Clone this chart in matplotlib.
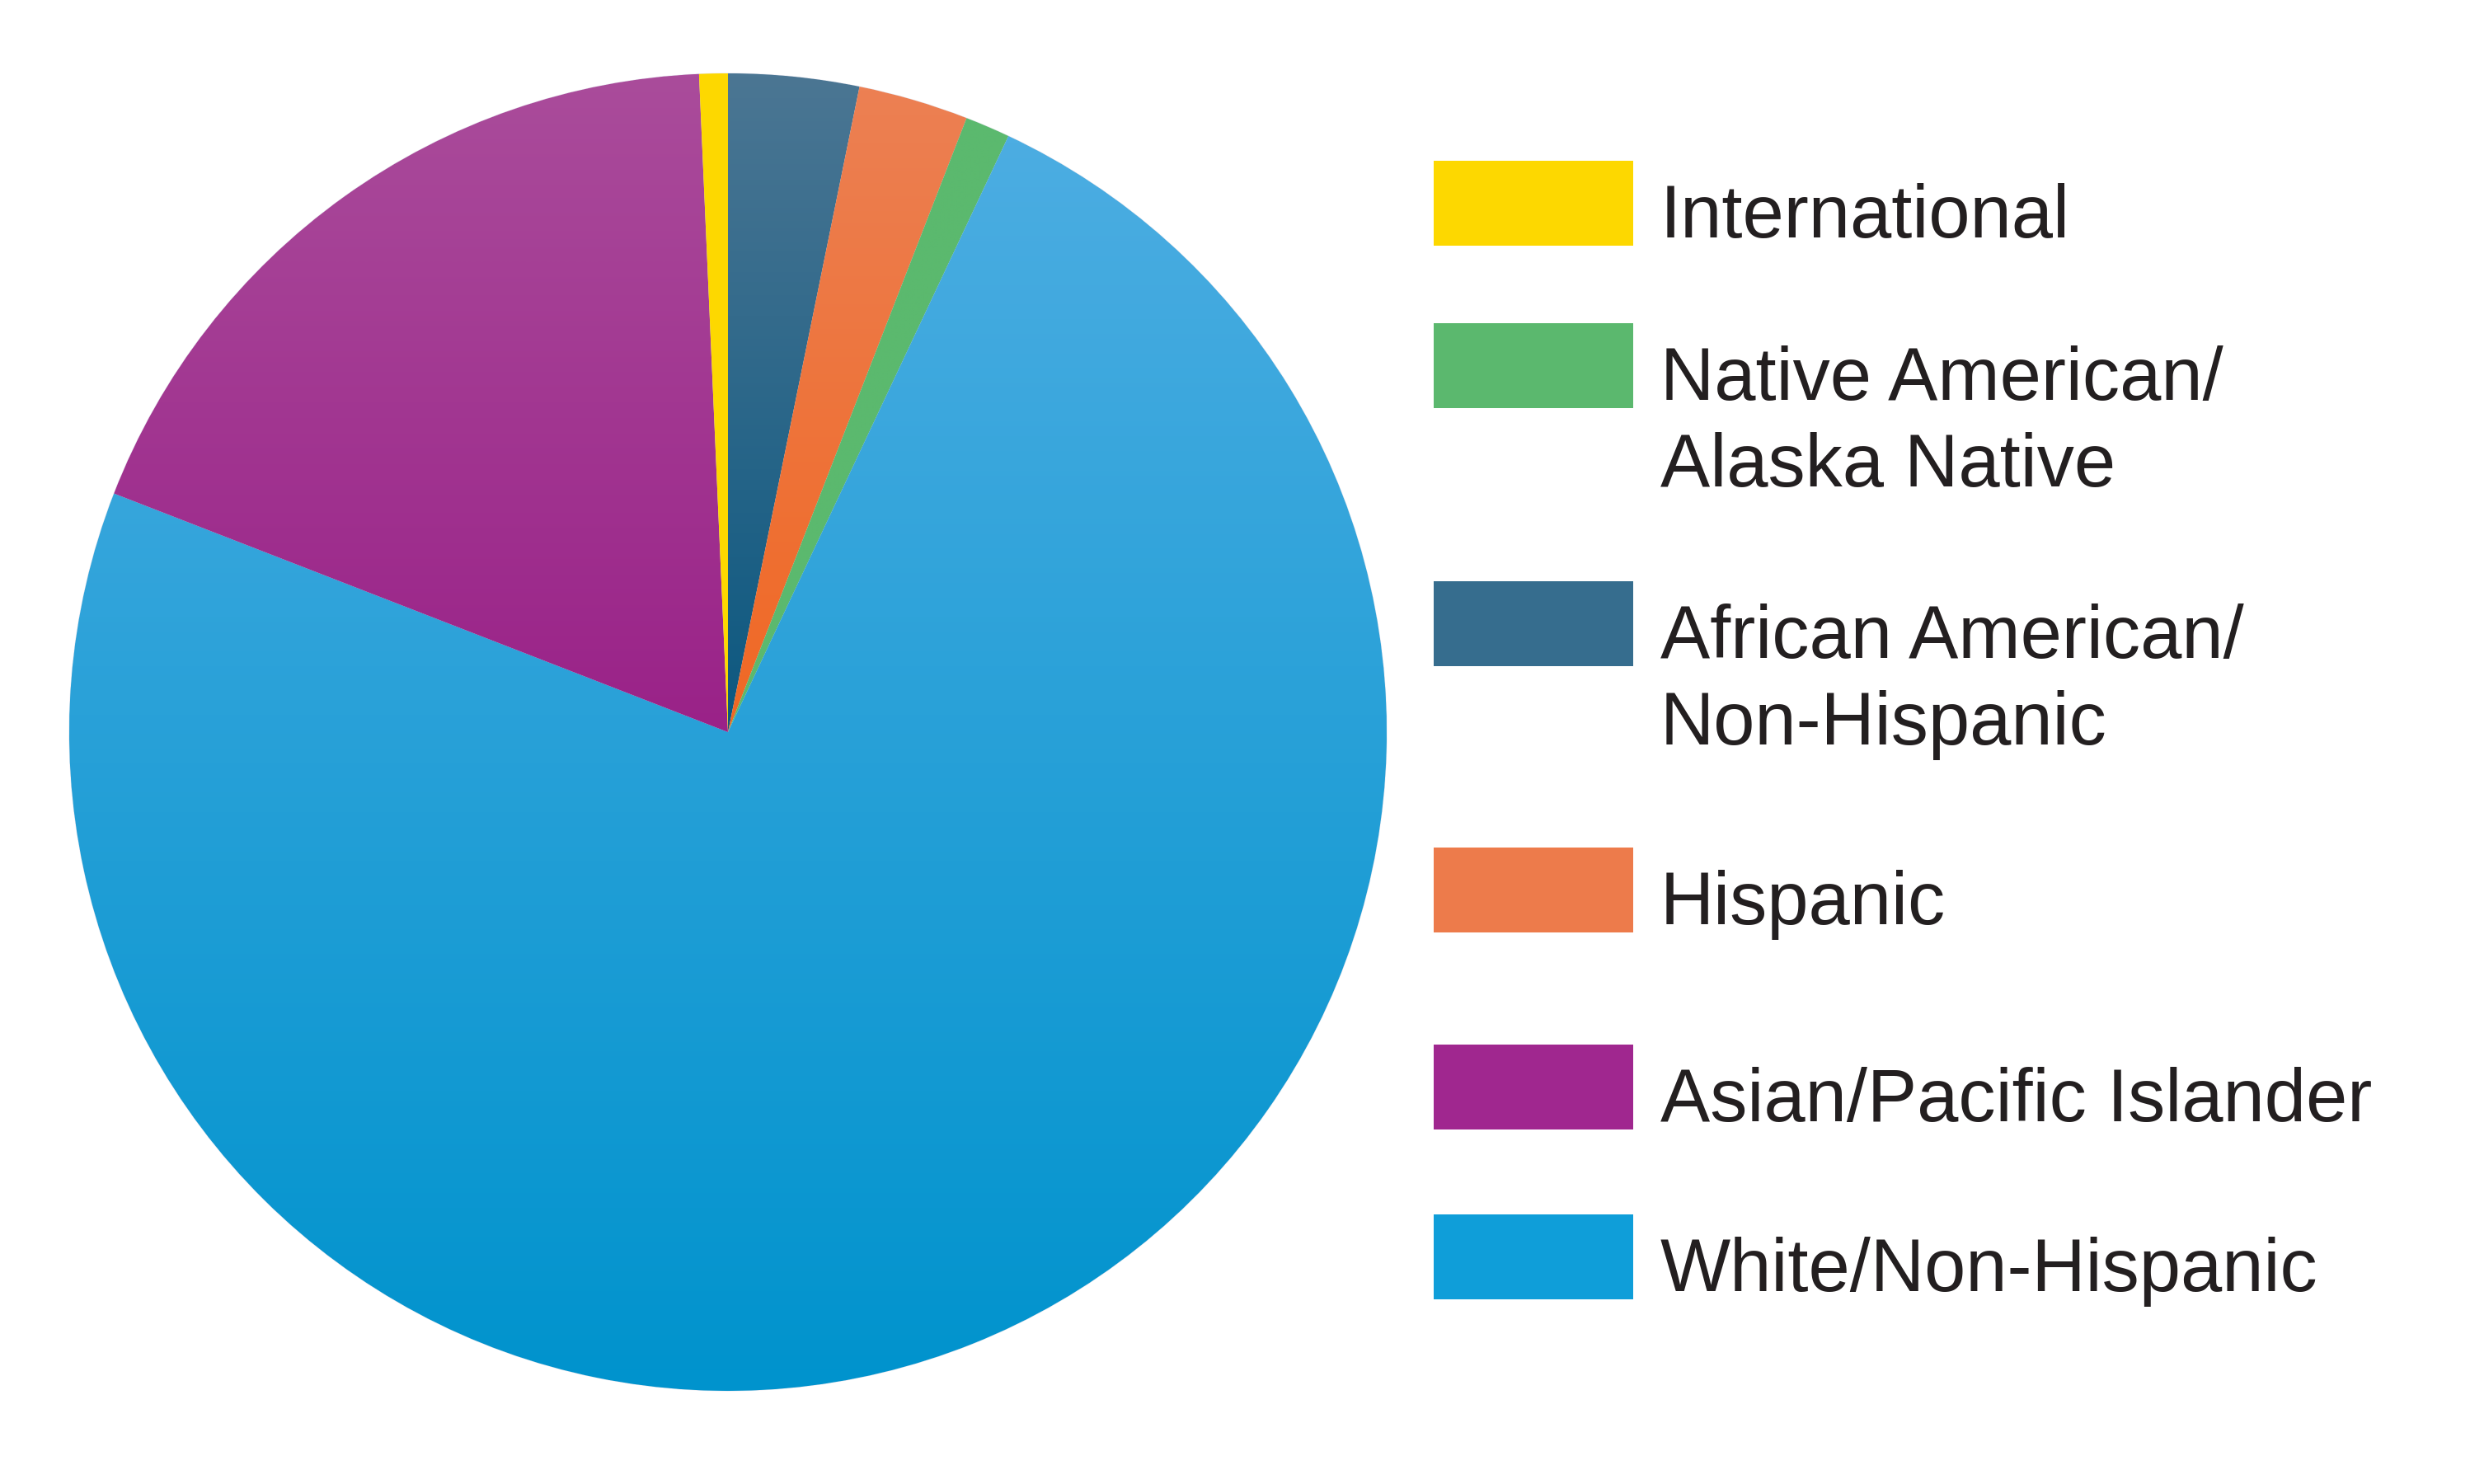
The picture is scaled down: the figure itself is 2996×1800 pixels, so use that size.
import numpy as np
import matplotlib.pyplot as plt
from matplotlib.colors import LinearSegmentedColormap
from matplotlib.patches import Rectangle

# Slices in drawing order (clockwise from 12 o'clock)
pie_labels = ['African American/\nNon-Hispanic', 'Hispanic',
              'Native American/\nAlaska Native', 'White/Non-Hispanic',
              'Asian/Pacific Islander', 'International']
pie_values = [3.2, 2.7, 1.1, 73.9, 18.4, 0.7]

# gradient colours (top, bottom) for each slice
grad_top = ['#4b7693', '#ec8053', '#5bb96e', '#4cade2', '#aa4c9b', '#fdd800']
grad_bot = ['#0c5880', '#f06824', '#5bb96e', '#0093cd', '#9a2288', '#fdd800']

# legend order and swatch colours
legend_labels = ['International', 'Native American/\nAlaska Native',
                 'African American/\nNon-Hispanic', 'Hispanic',
                 'Asian/Pacific Islander', 'White/Non-Hispanic']
legend_colors = ['#fdd800', '#5bb86e', '#366d8e', '#ed7b4b', '#a0278f', '#0f9ed9']

W, H = 2996, 1800
fig = plt.figure(figsize=(W / 100, H / 100), dpi=100)
fig.patch.set_facecolor('white')

# pie centre (883, 888) px, radius 799 px
cx, cy, r = 883, 888, 799
ax = fig.add_axes([(cx - r) / W, (H - cy - r) / H, 2 * r / W, 2 * r / H])

wedges, _ = ax.pie(pie_values, startangle=90, counterclock=False, radius=1,
                   colors=grad_bot,
                   wedgeprops=dict(edgecolor='#e8e8f0', linewidth=0.8))

# vertical gradient inside every wedge
grad = np.linspace(0, 1, 256).reshape(-1, 1)
for w, c0, c1 in zip(wedges, grad_top, grad_bot):
    ext = w.get_path().get_extents()
    cmap = LinearSegmentedColormap.from_list('g', [c0, c1])
    im = ax.imshow(grad, extent=(ext.x0, ext.x1, ext.y0, ext.y1), origin='upper',
                   cmap=cmap, aspect='auto', interpolation='bilinear', zorder=w.get_zorder())
    im.set_clip_path(w)

ax.set_xlim(-1.0, 1.0)
ax.set_ylim(-1.0, 1.0)
ax.set_aspect('equal')
ax.axis('off')

# legend drawn by hand
box_tops = [195, 392, 705, 1028, 1267, 1473]
box_h = 103
box_x, box_w = 1739, 242
text_x = 2014
line_gap = 105
for lab, col, top in zip(legend_labels, legend_colors, box_tops):
    fig.add_artist(Rectangle((box_x / W, 1 - (top + box_h) / H), box_w / W, box_h / H,
                             transform=fig.transFigure, facecolor=col, edgecolor='none'))
    base = top + box_h - 10
    for i, line in enumerate(lab.split('\n')):
        fig.text(text_x / W, 1 - (base + i * line_gap) / H, line,
                 fontsize=65, family='Liberation Sans', color='#231f20',
                 ha='left', va='baseline')

fig.savefig('out.png', dpi=100, facecolor='white')
